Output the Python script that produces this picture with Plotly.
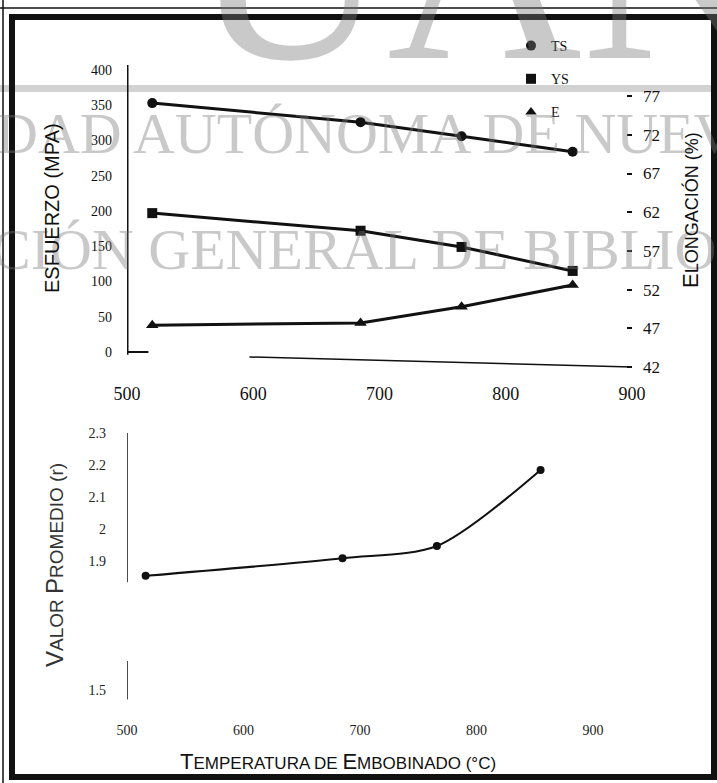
import plotly.graph_objects as go

# ---------------- data ----------------
temp = [520, 685, 765, 853]
ts = [353, 326, 306, 284]
ys = [197, 172, 149, 115]
elong = [47.4, 47.7, 49.8, 52.6]

temp_r = [516, 685, 766, 855]
r_val = [1.855, 1.91, 1.948, 2.185]

x_ticks = [500, 600, 700, 800, 900]
left_ticks = [0, 50, 100, 150, 200, 250, 300, 350, 400]
right_ticks = [42, 47, 52, 57, 62, 67, 72, 77]
r_ticks = [1.5, 1.9, 2.0, 2.1, 2.2, 2.3]
r_labels = ["1.5", "1.9", "2", "2.1", "2.2", "2.3"]

W, H = 717, 783
def px(xp):
    return xp / W
def py(yp):
    return 1 - yp / H

SERIF = "Liberation Serif"
SANS = "Liberation Sans"
BLACK = "#111111"
WM = "rgba(120,120,120,0.40)"

fig = go.Figure()

fig.add_trace(go.Scatter(x=temp, y=ts, mode="lines+markers", xaxis="x", yaxis="y",
                         line=dict(color=BLACK, width=3),
                         marker=dict(symbol="circle", size=10, color=BLACK), showlegend=False))
fig.add_trace(go.Scatter(x=temp, y=ys, mode="lines+markers", xaxis="x", yaxis="y",
                         line=dict(color=BLACK, width=3),
                         marker=dict(symbol="square", size=10, color=BLACK), showlegend=False))
fig.add_trace(go.Scatter(x=temp, y=elong, mode="lines+markers", xaxis="x", yaxis="y2",
                         line=dict(color=BLACK, width=3),
                         marker=dict(symbol="triangle-up", size=11, color=BLACK), showlegend=False))
fig.add_trace(go.Scatter(x=temp_r, y=r_val, mode="lines+markers", xaxis="x2", yaxis="y3",
                         line=dict(color=BLACK, width=2, shape="spline", smoothing=0.8),
                         marker=dict(symbol="circle", size=8, color=BLACK), showlegend=False))

# legend entries (markers only)
for name, sym, g in [("TS", "circle", "a"), ("YS", "square", "b"), ("E", "triangle-up", "c")]:
    fig.add_trace(go.Scatter(x=[None], y=[None], mode="markers", name=name, legendgroup=g,
                             marker=dict(symbol=sym, size=10, color=BLACK),
                             xaxis="x", yaxis="y"))

top_dom = [py(375), py(62)]
bot_dom = [py(702), py(425)]

axis_common = dict(showgrid=False, zeroline=False, showline=False, automargin=False)

fig.update_layout(
    width=W, height=H,
    margin=dict(l=0, r=0, t=0, b=0, autoexpand=False),
    paper_bgcolor="white", plot_bgcolor="rgba(0,0,0,0)",
    font=dict(family=SERIF, color=BLACK),
    xaxis=dict(domain=[px(127), px(632)], range=[500, 900], anchor="y",
               tickvals=x_ticks, ticks="", ticklabelstandoff=6,
               tickfont=dict(family=SERIF, size=18, color=BLACK), **axis_common),
    yaxis=dict(domain=top_dom, range=[-32.6, 411.3], anchor="x",
               tickvals=left_ticks, ticks="", ticklabelstandoff=14,
               tickfont=dict(family=SERIF, size=14, color=BLACK), **axis_common),
    yaxis2=dict(overlaying="y", side="right", anchor="x", range=[40.97, 81.41],
                tickvals=right_ticks, ticks="inside", ticklen=5, tickwidth=2, tickcolor=BLACK,
                ticklabelstandoff=10,
                tickfont=dict(family=SERIF, size=17, color=BLACK), **axis_common),
    xaxis2=dict(domain=[px(127), px(593)], range=[500, 900], anchor="y3",
                tickvals=x_ticks, ticks="", ticklabelstandoff=18,
                tickfont=dict(family=SERIF, size=14, color="#222"), **axis_common),
    yaxis3=dict(domain=bot_dom, range=[1.462, 2.325], anchor="x2",
                tickvals=r_ticks, ticktext=r_labels, ticks="", ticklabelstandoff=20,
                tickfont=dict(family=SERIF, size=14, color="#222"), **axis_common),
    legend=dict(x=px(511), y=py(30), xanchor="left", yanchor="top",
                bgcolor="rgba(0,0,0,0)", tracegroupgap=12,
                font=dict(family=SERIF, size=14, color=BLACK), itemwidth=30),
)

shapes = []
# watermark band
shapes.append(dict(type="line", xref="paper", yref="paper", x0=0, x1=1, y0=py(88.5), y1=py(88.5),
                   line=dict(color="#d2d2d2", width=7), layer="below"))
# top panel left axis line
shapes.append(dict(type="line", xref="x", yref="y", x0=x_ticks[0], x1=x_ticks[0],
                   y0=-4, y1=407, line=dict(color=BLACK, width=3)))
shapes.append(dict(type="line", xref="x", yref="y", x0=x_ticks[0], x1=517,
                   y0=left_ticks[0], y1=left_ticks[0], line=dict(color=BLACK, width=2)))
# skewed baseline of elongation axis
shapes.append(dict(type="line", xref="x", yref="y2", x0=597, x1=x_ticks[-1],
                   y0=43.3, y1=right_ticks[0], line=dict(color=BLACK, width=1.5)))
# bottom panel axis line segments
shapes.append(dict(type="line", xref="x2", yref="y3", x0=x_ticks[0], x1=x_ticks[0],
                   y0=1.835, y1=2.3, line=dict(color=BLACK, width=1.5)))
shapes.append(dict(type="line", xref="x2", yref="y3", x0=x_ticks[0], x1=x_ticks[0],
                   y0=1.47, y1=1.59, line=dict(color=BLACK, width=1.5)))
# frame
shapes.append(dict(type="rect", xref="paper", yref="paper", x0=px(12), x1=px(714),
                   y0=py(777), y1=py(17), line=dict(color=BLACK, width=6)))
shapes.append(dict(type="line", xref="paper", yref="paper", x0=px(3), x1=px(3),
                   y0=0, y1=1, line=dict(color=BLACK, width=1.5)))
shapes.append(dict(type="line", xref="paper", yref="paper", x0=0, x1=1,
                   y0=py(8), y1=py(8), line=dict(color=BLACK, width=1.5)))
fig.update_layout(shapes=shapes)

def sc(first, rest, big, small):
    return f"<span style='font-size:{big}px'>{first}</span><span style='font-size:{small}px'>{rest}</span>"

annotations = [
    # watermark
    dict(text="UAN", x=px(190), y=py(45), xanchor="left", yanchor="bottom",
         font=dict(family=SERIF, size=270, color=WM), yshift=-73),
    dict(text="DAD AUTÓNOMA DE NUEV", x=px(-6), y=py(134), xanchor="left", yanchor="middle",
         font=dict(family=SERIF, size=58, color=WM)),
    dict(text="CIÓN GENERAL DE BIBLIOT", x=px(-10), y=py(250), xanchor="left", yanchor="middle",
         font=dict(family=SERIF, size=58, color=WM)),
    # axis titles
    dict(text="ESFUERZO (MPA)", x=px(52), y=py(208), textangle=-90,
         xanchor="center", yanchor="middle",
         font=dict(family=SANS, size=20, color=BLACK)),
    dict(text=sc("E", "LONGACIÓN (%)", 22, 18), x=px(690), y=py(210), textangle=-90,
         xanchor="center", yanchor="middle",
         font=dict(family=SANS, size=18, color=BLACK)),
    dict(text=sc("V", "ALOR ", 24, 19) + sc("P", "ROMEDIO (r)", 24, 19), x=px(54), y=py(565),
         textangle=-90, xanchor="center", yanchor="middle",
         font=dict(family=SANS, size=19, color="#333")),
    dict(text=sc("T", "EMPERATURA DE ", 22, 17) + sc("E", "MBOBINADO (°C)", 22, 17),
         x=px(338), y=py(761), xanchor="center", yanchor="middle",
         font=dict(family=SANS, size=17, color=BLACK)),
]
for a in annotations:
    a.setdefault("xref", "paper")
    a.setdefault("yref", "paper")
    a.setdefault("showarrow", False)
fig.update_layout(annotations=annotations)

fig.write_html("out.html", config={"displayModeBar": False},
               post_script="document.body.style.margin='0px';")
